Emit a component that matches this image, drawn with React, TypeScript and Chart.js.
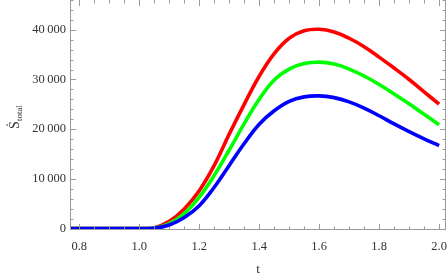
import React, { useEffect, useRef } from "react";
import { Chart, registerables } from "chart.js";

Chart.register(...registerables);

const tValues = [0.77, 0.8, 0.85, 0.9, 0.95, 1.0, 1.05, 1.1, 1.15, 1.2, 1.25, 1.3, 1.35, 1.4, 1.45, 1.5, 1.55, 1.6, 1.65, 1.7, 1.75, 1.8, 1.85, 1.9, 1.95, 2.0];
const redValues = [0, 0, 0, 0, 0, 0, 150, 1450, 3950, 7600, 12700, 19000, 25000, 30650, 35200, 38300, 39800, 40100, 39550, 38300, 36600, 34500, 32300, 30000, 27500, 25050];
const greenValues = [0, 0, 0, 0, 0, 0, 100, 1000, 3000, 6300, 10700, 15800, 21100, 26000, 29900, 32100, 33200, 33500, 33100, 32100, 30700, 29000, 27100, 25100, 23000, 20900];
const blueValues = [0, 0, 0, 0, 0, 0, 60, 710, 2210, 4600, 8300, 12700, 17100, 21000, 23700, 25600, 26500, 26700, 26350, 25500, 24250, 22700, 21050, 19500, 18050, 16700];

const xMajorTicks = [0.8, 1.0, 1.2, 1.4, 1.6, 1.8, 2.0];
const yMajorTicks = [0, 10000, 20000, 30000, 40000];
const xMinorStep = 0.05;
const yMinorStep = 2000;

const X_MIN = 0.769;
const X_MAX = 2.023;
const Y_MIN = -300;
const Y_MAX = 46000;

const FRAME = "#9a9a9a";
const TEXT = "#333333";
const SERIF = "'Liberation Serif', 'DejaVu Serif', serif";

function fmt(v: number) {
  if (v === 0) return "0";
  const s = String(Math.round(v));
  return s.slice(0, s.length - 3) + "\u2009" + s.slice(s.length - 3);
}

const framePlugin = {
  id: "frameTicks",
  afterDraw(chart: any) {
    const ctx = chart.ctx;
    const { left, right, top, bottom } = chart.chartArea;
    const xs = chart.scales.x;
    const ys = chart.scales.y;
    ctx.save();
    ctx.strokeStyle = FRAME;
    ctx.lineWidth = 1;
    ctx.beginPath();
    ctx.moveTo(left + 0.5, top);
    ctx.lineTo(left + 0.5, bottom - 0.5);
    ctx.lineTo(right - 0.5, bottom - 0.5);
    ctx.lineTo(right - 0.5, top);
    ctx.stroke();
    const majorLen = 6;
    const minorLen = 3.5;
    ctx.beginPath();
    for (let i = 0; i <= 40; i++) {
      const v = Math.round((0.8 + i * xMinorStep) * 1000) / 1000;
      if (v > X_MAX) break;
      const isMajor = xMajorTicks.some((m) => Math.abs(m - v) < 1e-6);
      const len = isMajor ? majorLen : minorLen;
      const px = Math.round(xs.getPixelForValue(v)) + 0.5;
      ctx.moveTo(px, bottom);
      ctx.lineTo(px, bottom - len);
      ctx.moveTo(px, top);
      ctx.lineTo(px, top + len);
    }
    for (let v = 0; v <= Y_MAX; v += yMinorStep) {
      const isMajor = v % 10000 === 0;
      const len = isMajor ? majorLen : minorLen;
      const py = Math.round(ys.getPixelForValue(v)) + 0.5;
      ctx.moveTo(left, py);
      ctx.lineTo(left + len, py);
      ctx.moveTo(right, py);
      ctx.lineTo(right - len, py);
    }
    ctx.stroke();

    ctx.fillStyle = TEXT;
    ctx.translate(14, 117);
    ctx.rotate(-Math.PI / 2);
    ctx.textBaseline = "alphabetic";
    ctx.font = "14px " + SERIF;
    const main = "\u1E60";
    const w1 = ctx.measureText(main).width;
    ctx.font = "9px " + SERIF;
    const sub = "total";
    const w2 = ctx.measureText(sub).width;
    const total = w1 + w2;
    ctx.font = "14px " + SERIF;
    ctx.fillText(main, -total / 2, 5);
    ctx.font = "9px " + SERIF;
    ctx.fillText(sub, -total / 2 + w1, 8);
    ctx.restore();
  },
};

export default function App() {
  const ref = useRef<HTMLCanvasElement>(null);
  useEffect(() => {
    document.body.style.margin = "0";
    const mk = (vals: number[], color: string, order: number) => ({
      data: tValues.map((t, i) => ({ x: t, y: vals[i] })),
      borderColor: color,
      backgroundColor: color,
      borderWidth: 3.6,
      pointRadius: 0,
      tension: 0.4,
      order,
    });
    const chart = new Chart(ref.current as HTMLCanvasElement, {
      type: "line",
      data: {
        datasets: [
          mk(redValues, "#ff0000", 2),
          mk(greenValues, "#00ff00", 1),
          mk(blueValues, "#0000ff", 0),
        ],
      },
      options: {
        animation: false,
        responsive: false,
        layout: { padding: { left: 0, right: 1, top: 0, bottom: 0 } },
        plugins: { legend: { display: false }, tooltip: { enabled: false } },
        scales: {
          x: {
            type: "linear",
            min: X_MIN,
            max: X_MAX,
            grid: { display: false, drawTicks: false },
            border: { display: false },
            afterBuildTicks: (s: any) => {
              s.ticks = xMajorTicks.map((v) => ({ value: v }));
            },
            afterFit: (s: any) => {
              s.height = 47;
              s.paddingLeft = 0;
              s.paddingRight = 0;
            },
            ticks: {
              padding: 9,
              color: TEXT,
              font: { family: SERIF, size: 12.5 },
              maxRotation: 0,
              autoSkip: false,
              callback: (v: any) => Number(v).toFixed(1),
            },
            title: {
              display: true,
              text: "t",
              color: TEXT,
              font: { family: SERIF, size: 13 },
              padding: { top: 4, bottom: 0 },
            },
          },
          y: {
            type: "linear",
            min: Y_MIN,
            max: Y_MAX,
            grid: { display: false, drawTicks: false },
            border: { display: false },
            afterBuildTicks: (s: any) => {
              s.ticks = yMajorTicks.map((v) => ({ value: v }));
            },
            afterFit: (s: any) => {
              s.width = 70;
              s.paddingTop = 0;
              s.paddingBottom = 0;
            },
            ticks: {
              padding: 4,
              color: TEXT,
              font: { family: SERIF, size: 12.5 },
              autoSkip: false,
              callback: (v: any) => fmt(Number(v)),
            },
          },
        },
      },
      plugins: [framePlugin],
    });
    return () => chart.destroy();
  }, []);
  return (
    <div style={{ position: "absolute", left: 0, top: 0, width: 447, height: 277, background: "#fff" }}>
      <canvas ref={ref} width={447} height={277} style={{ display: "block" }} />
    </div>
  );
}
